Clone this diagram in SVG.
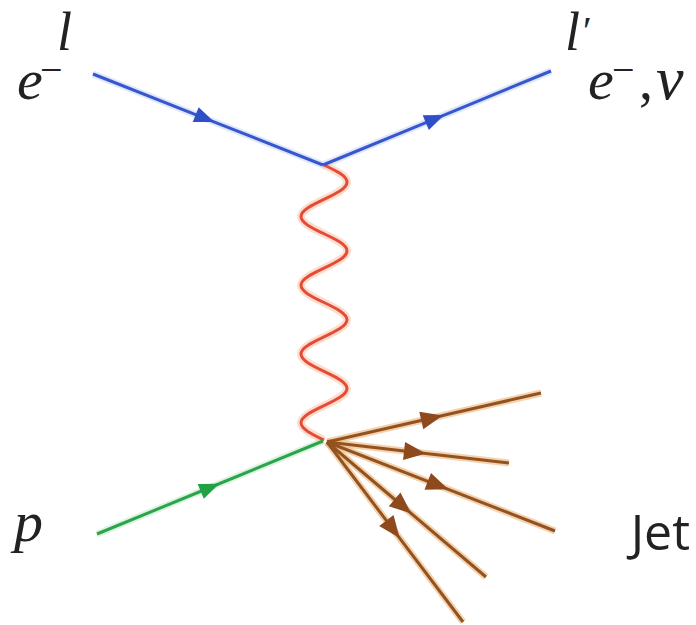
<svg xmlns="http://www.w3.org/2000/svg" width="696" height="625" viewBox="0 0 696 625">
  <defs>
    <style>
      .math { font-family: "Liberation Serif", "DejaVu Serif", serif; font-style: italic; fill: #222; }
      .sup { font-family: "Liberation Serif", "DejaVu Serif", serif; fill: #222; }
      .jet { font-family: "Open Sans", "Liberation Sans", sans-serif; fill: #222; }
      .blue { stroke: #3558d0; stroke-width: 3; fill: none; }
      .blueh { stroke: #3558d0; stroke-opacity: 0.15; stroke-width: 7; fill: none; }
      .green { stroke: #2aa54a; stroke-width: 3; fill: none; }
      .greenh { stroke: #2aa54a; stroke-opacity: 0.15; stroke-width: 7; fill: none; }
      .red { stroke: #e64b3a; stroke-width: 3; fill: none; }
      .redh { stroke: #f5a070; stroke-opacity: 0.35; stroke-width: 8; fill: none; }
      .brown { stroke: #94521f; stroke-width: 3; fill: none; }
      .brownh { stroke: #e9b47a; stroke-opacity: 0.6; stroke-width: 7; fill: none; }
    </style>
    <marker id="aBlue" markerUnits="userSpaceOnUse" markerWidth="30" markerHeight="30" refX="0" refY="0" viewBox="-15 -15 30 30" orient="auto" overflow="visible">
      <path d="M-10,-8 L10,0 L-10,8 Z" fill="#2f4fc8"/>
    </marker>
    <marker id="aGreen" markerUnits="userSpaceOnUse" markerWidth="30" markerHeight="30" refX="0" refY="0" viewBox="-15 -15 30 30" orient="auto" overflow="visible">
      <path d="M-10,-8 L10,0 L-10,8 Z" fill="#22a044"/>
    </marker>
    <marker id="aBrown" markerUnits="userSpaceOnUse" markerWidth="30" markerHeight="30" refX="0" refY="0" viewBox="-15 -15 30 30" orient="auto" overflow="visible">
      <path d="M-11,-9 L11,0 L-11,9 Z" fill="#8e4a1c"/>
    </marker>
  </defs>
  <rect width="696" height="625" fill="#ffffff"/>

  <g id="connectors">
    <!-- halos -->
    <polyline class="blueh" points="93,74 323,165 551,71"/>
    <polyline class="greenh" points="97,534 323,441"/>
    <path class="redh" d="M324,165 c11.77,5.6 23,10.97 23,17.19 c0,6.22 -11.23,11.59 -23,17.19 c-11.77,5.6 -23,10.97 -23,17.19 c0,6.22 11.23,11.59 23,17.19 c11.77,5.6 23,10.97 23,17.19 c0,6.22 -11.23,11.59 -23,17.19 c-11.77,5.6 -23,10.97 -23,17.19 c0,6.22 11.23,11.59 23,17.19 c11.77,5.6 23,10.97 23,17.19 c0,6.22 -11.23,11.59 -23,17.19 c-11.77,5.6 -23,10.97 -23,17.19 c0,6.22 11.23,11.59 23,17.19 c11.77,5.6 23,10.97 23,17.19 c0,6.22 -11.23,11.59 -23,17.19 c-11.77,5.6 -23,10.97 -23,17.19 c0,6.22 11.23,11.59 23,17.19"/>
    <polyline class="brownh" points="327,442 541,393"/>
    <polyline class="brownh" points="327,442 509,463"/>
    <polyline class="brownh" points="327,442 555,531"/>
    <polyline class="brownh" points="327,442 486,577"/>
    <polyline class="brownh" points="327,442 463,622"/>

    <!-- photon -->
    <path id="photon" class="red" d="M324,165 c11.77,5.6 23,10.97 23,17.19 c0,6.22 -11.23,11.59 -23,17.19 c-11.77,5.6 -23,10.97 -23,17.19 c0,6.22 11.23,11.59 23,17.19 c11.77,5.6 23,10.97 23,17.19 c0,6.22 -11.23,11.59 -23,17.19 c-11.77,5.6 -23,10.97 -23,17.19 c0,6.22 11.23,11.59 23,17.19 c11.77,5.6 23,10.97 23,17.19 c0,6.22 -11.23,11.59 -23,17.19 c-11.77,5.6 -23,10.97 -23,17.19 c0,6.22 11.23,11.59 23,17.19 c11.77,5.6 23,10.97 23,17.19 c0,6.22 -11.23,11.59 -23,17.19 c-11.77,5.6 -23,10.97 -23,17.19 c0,6.22 11.23,11.59 23,17.19"/>

    <!-- lepton lines -->
    <polyline id="lepton-in" class="blue" points="93,74 205,118.3 323,165" marker-mid="url(#aBlue)"/>
    <polyline id="lepton-out" class="blue" points="323,165 435,118.8 551,71" marker-mid="url(#aBlue)"/>

    <!-- proton -->
    <polyline id="proton-in" class="green" points="97,534 210,487.5 323,441" marker-mid="url(#aGreen)"/>

    <!-- jet -->
    <polyline class="brown" points="327,442 432,418 541,393" marker-mid="url(#aBrown)"/>
    <polyline class="brown" points="327,442 415,452.2 509,463" marker-mid="url(#aBrown)"/>
    <polyline class="brown" points="327,442 438,485.3 555,531" marker-mid="url(#aBrown)"/>
    <polyline class="brown" points="327,442 403,506.5 486,577" marker-mid="url(#aBrown)"/>
    <polyline class="brown" points="327,442 393,529.3 463,622" marker-mid="url(#aBrown)"/>
  </g>

  <g id="label-e-in">
    <text class="math" x="17" y="99" font-size="58">e</text>
    <text class="sup" x="40" y="83" font-size="40">−</text>
  </g>
  <g id="label-l">
    <text class="math" x="57" y="50" font-size="54">l</text>
  </g>
  <g id="label-lprime">
    <text class="math" x="565" y="50" font-size="54">l</text>
    <text class="sup" x="583" y="44" font-size="40">′</text>
  </g>
  <g id="label-e-out">
    <text class="math" x="588" y="99" font-size="58">e</text>
    <text class="sup" x="612" y="83" font-size="40">−</text>
    <text class="sup" x="639" y="99" font-size="56">,</text>
    <text class="math" x="656" y="99" font-size="62">ν</text>
  </g>
  <g id="label-p">
    <text class="math" x="14" y="541" font-size="58">p</text>
  </g>
  <g id="label-jet">
    <text class="jet" x="690" y="550" font-size="50" text-anchor="end">Jet</text>
  </g>
</svg>
